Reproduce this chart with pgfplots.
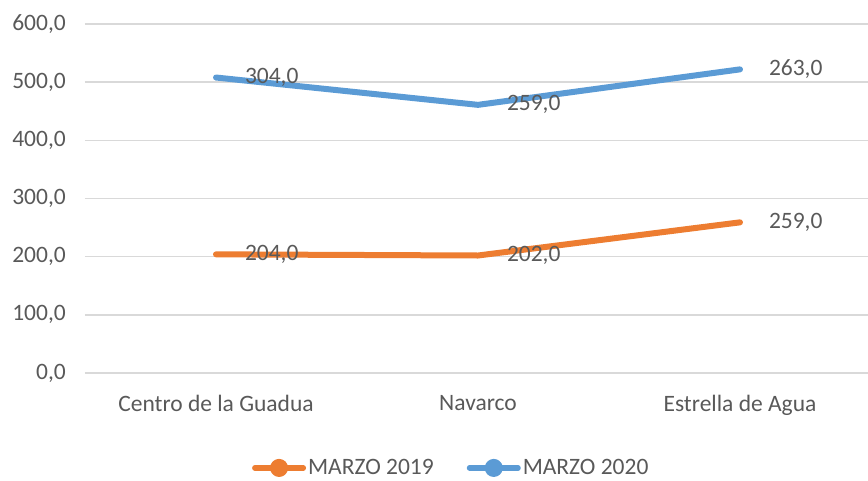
\documentclass[border=0pt]{standalone}
\usepackage{fontspec}
\setmainfont{Carlito}
\usepackage{pgfplots}
\pgfplotsset{compat=1.18}
\definecolor{c19}{HTML}{ED7D31}
\definecolor{c20}{HTML}{5B9BD5}
\definecolor{txt}{HTML}{595959}
\definecolor{gridc}{HTML}{D9D9D9}
\begin{document}
\begin{tikzpicture}[x=1pt,y=1pt]
\useasboundingbox (0,0) rectangle (868,480);
\begin{axis}[
  at={(85pt,107pt)}, anchor=south west,
  scale only axis, width=786pt, height=349pt,
  xmin=-0.5, xmax=2.5, ymin=0, ymax=600,
  xtick={0,1,2},
  xticklabels={Centro de la Guadua, Navarco, Estrella de Agua},
  ytick={0,100,...,600},
  axis line style={draw=none},
  major tick length=0pt,
  ymajorgrids,
  grid style={gridc, line width=1.5pt},
  tick label style={font=\fontsize{23.5pt}{28pt}\selectfont, text=txt},
  yticklabel style={anchor=east, inner sep=0pt, xshift=-19pt},
  xticklabel style={anchor=north, inner sep=0pt, yshift=-22pt},
  /pgf/number format/fixed,
  /pgf/number format/fixed zerofill,
  /pgf/number format/precision=1,
  /pgf/number format/use comma,
  /pgf/number format/1000 sep={},
  /pgf/number format/assume math mode=true,
  stack plots=y,
  point meta=explicit,
  nodes near coords,
  every node near coord/.append style={anchor=west, xshift=26pt, inner sep=0pt,
     font=\fontsize{23.5pt}{28pt}\selectfont, text=txt},
  legend columns=2,
  legend style={at={(0.466,-0.272)}, anchor=center, draw=none, fill=none,
     font=\fontsize{23.5pt}{28pt}\selectfont, text=txt,
     /tikz/every even column/.append style={column sep=31pt}},
  legend image code/.code={
     \draw[#1, line width=5.5pt, line cap=round] (2.75pt,0pt) -- (51.25pt,0pt);
     \fill[#1] (27pt,0pt) circle (6pt);},
]
\addplot[color=c19, line width=6pt, line cap=round, line join=round] coordinates {(0,204) [204] (1,202) [202] (2,259) [259]};
\addlegendentry{MARZO 2019}
\addplot[color=c20, line width=6pt, line cap=round, line join=round] coordinates {(0,304) [304] (1,259) [259] (2,263) [263]};
\addlegendentry{MARZO 2020}
\end{axis}
\end{tikzpicture}
\end{document}
